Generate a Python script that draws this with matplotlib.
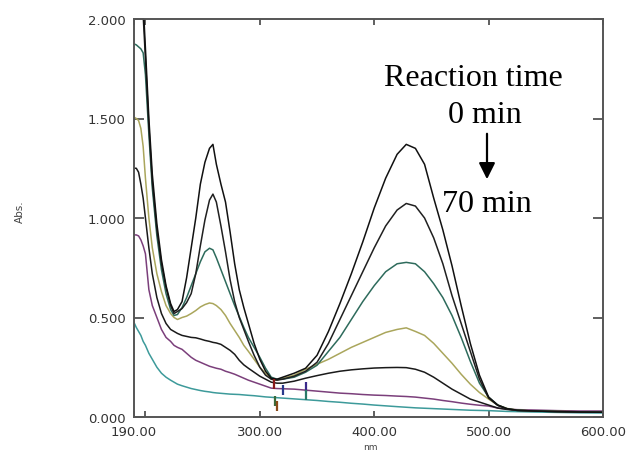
import matplotlib
matplotlib.use("Agg")
import matplotlib.pyplot as plt

# wavelength grid (nm)
wl = [190, 192, 194, 196, 198, 200, 203, 206, 210, 214, 218, 222, 225, 228, 232,
      236, 240, 244, 248, 252, 256, 259, 262, 266, 270, 274, 278, 282, 286, 290,
      295, 300, 305, 310, 315, 320, 330, 340, 350, 360, 370, 380, 390, 400, 410,
      420, 428, 436, 444, 452, 460, 468, 476, 484, 492, 500, 508, 516, 525, 540,
      560, 580, 600]

abs_0min = [3.6, 3.2, 2.8, 2.4, 2.08, 1.85, 1.5, 1.22, 0.97, 0.79, 0.66, 0.57, 0.53, 0.54, 0.58,
            0.7, 0.85, 1.0, 1.17, 1.28, 1.35, 1.37, 1.27, 1.17, 1.08, 0.93, 0.77, 0.64, 0.55, 0.47,
            0.37, 0.29, 0.23, 0.195, 0.19, 0.2, 0.22, 0.245, 0.31, 0.43, 0.57, 0.72, 0.88, 1.05, 1.2,
            1.32, 1.37, 1.35, 1.27, 1.1, 0.94, 0.76, 0.56, 0.37, 0.21, 0.1, 0.06, 0.042, 0.034, 0.03,
            0.027, 0.025, 0.024]

abs_10min = [3.3, 2.95, 2.6, 2.3, 2.02, 1.8, 1.46, 1.18, 0.94, 0.77, 0.65, 0.56, 0.52, 0.53, 0.545,
             0.575, 0.62, 0.72, 0.86, 0.99, 1.09, 1.12, 1.08, 0.96, 0.83, 0.69, 0.58, 0.5, 0.44, 0.38,
             0.31, 0.25, 0.21, 0.19, 0.185, 0.19, 0.205, 0.23, 0.275, 0.37, 0.49, 0.61, 0.73, 0.85, 0.96,
             1.04, 1.073, 1.06, 1.0, 0.9, 0.77, 0.61, 0.47, 0.33, 0.19, 0.095, 0.058, 0.04, 0.033, 0.03,
             0.027, 0.025, 0.024]

abs_20min = [1.875, 1.87, 1.86, 1.85, 1.83, 1.72, 1.42, 1.15, 0.91, 0.74, 0.62, 0.54, 0.51, 0.515, 0.55,
             0.6, 0.66, 0.72, 0.78, 0.83, 0.848, 0.84, 0.8, 0.74, 0.68, 0.62, 0.56, 0.505, 0.45, 0.4,
             0.35, 0.3, 0.245, 0.2, 0.19, 0.19, 0.2, 0.225, 0.26, 0.33, 0.4, 0.49, 0.58, 0.66, 0.73,
             0.77, 0.777, 0.77, 0.73, 0.67, 0.6, 0.51, 0.4, 0.28, 0.17, 0.1, 0.06, 0.042, 0.034, 0.03,
             0.027, 0.025, 0.024]

abs_30min = [1.507, 1.5, 1.49, 1.45, 1.36, 1.2, 1.0, 0.85, 0.72, 0.63, 0.56, 0.52, 0.5, 0.49, 0.5,
             0.507, 0.52, 0.535, 0.553, 0.565, 0.573, 0.57, 0.56, 0.54, 0.51, 0.47, 0.435, 0.4, 0.36, 0.33,
             0.29, 0.25, 0.22, 0.19, 0.185, 0.195, 0.21, 0.24, 0.265, 0.29, 0.32, 0.35, 0.375, 0.4, 0.425,
             0.44, 0.448, 0.43, 0.41, 0.37, 0.32, 0.27, 0.215, 0.165, 0.123, 0.09, 0.06, 0.043, 0.035, 0.03,
             0.028, 0.026, 0.025]

abs_40min = [1.25, 1.25, 1.23, 1.17, 1.1, 1.0, 0.85, 0.72, 0.6, 0.52, 0.47, 0.44, 0.43, 0.42, 0.41,
             0.405, 0.4, 0.398, 0.392, 0.385, 0.38, 0.375, 0.372, 0.365, 0.35, 0.335, 0.315, 0.285, 0.262, 0.245,
             0.225, 0.205, 0.19, 0.175, 0.17, 0.17, 0.18, 0.195, 0.208, 0.22, 0.23, 0.237, 0.242, 0.246, 0.248,
             0.249, 0.248, 0.24, 0.225, 0.2, 0.17, 0.14, 0.115, 0.09, 0.075, 0.06, 0.045, 0.038, 0.033, 0.03,
             0.028, 0.026, 0.025]

abs_50min = [0.915, 0.915, 0.91, 0.89, 0.86, 0.82, 0.64, 0.56, 0.5, 0.44, 0.4, 0.38, 0.36, 0.35, 0.34,
             0.32, 0.3, 0.285, 0.275, 0.265, 0.255, 0.25, 0.245, 0.24, 0.23, 0.223, 0.215, 0.205, 0.195, 0.185,
             0.175, 0.165, 0.155, 0.145, 0.143, 0.142, 0.14, 0.135, 0.13, 0.125, 0.12, 0.117, 0.113, 0.11, 0.108,
             0.105, 0.103, 0.1, 0.095, 0.09, 0.083, 0.077, 0.07, 0.064, 0.059, 0.055, 0.045, 0.04, 0.037, 0.035,
             0.032, 0.03, 0.03]

abs_70min = [0.475, 0.45, 0.43, 0.41, 0.38, 0.36, 0.32, 0.29, 0.25, 0.22, 0.2, 0.185, 0.175, 0.165, 0.157,
             0.15, 0.143, 0.138, 0.133, 0.129, 0.126, 0.123, 0.121, 0.119, 0.117, 0.115, 0.114, 0.113, 0.111, 0.109,
             0.107, 0.104, 0.101, 0.099, 0.097, 0.095, 0.091, 0.087, 0.083, 0.078, 0.074, 0.069, 0.065, 0.06, 0.056,
             0.052, 0.049, 0.046, 0.044, 0.042, 0.04, 0.038, 0.036, 0.034, 0.033, 0.032, 0.03, 0.028, 0.027, 0.025,
             0.023, 0.021, 0.02]

# instrument peak-pick markers
pick_wl = [312, 313, 315, 320, 340, 340]
pick_abs = [0.165, 0.08, 0.055, 0.135, 0.15, 0.11]
pick_colors = ['#8b1a1a', '#3a6b3a', '#8b4a1a', '#2a3a8b', '#3a2a8b', '#2a7a6a']

series = [abs_70min, abs_50min, abs_40min, abs_30min, abs_20min, abs_10min, abs_0min]
colors = ['#3d9a9a', '#7b3f7b', '#1a1a1a', '#aaa65c', '#2e6b5c', '#202020', '#111111']

x_tick_vals = [190, 300, 400, 500, 600]
x_tick_labels = ['190.00', '300.00', '400.00', '500.00', '600.00']
y_tick_vals = [0.0, 0.5, 1.0, 1.5, 2.0]
y_tick_labels = ['0.000', '0.500', '1.000', '1.500', '2.000']

fig = plt.figure(figsize=(6.29, 4.52), dpi=100)
ax = fig.add_axes([134/629, 1 - 418/452, (603 - 134)/629, (418 - 20)/452])

for ys, c in zip(series, colors):
    ax.plot(wl, ys, color=c, lw=1.1)

for px, py, pc in zip(pick_wl, pick_abs, pick_colors):
    ax.plot([px], [py], marker='|', markersize=7, mew=1.6, color=pc)

ax.set_xlim(190, 600)
ax.set_ylim(0, 2)

ax.set_xticks(x_tick_vals, x_tick_labels)
ax.set_xticks([200], minor=True)
ax.set_yticks(y_tick_vals, y_tick_labels)

for lab in ax.get_xticklabels() + ax.get_yticklabels():
    lab.set_fontfamily('DejaVu Sans')
    lab.set_fontsize(9.5)
    lab.set_color('#333333')

ax.tick_params(axis='x', which='both', direction='in', length=4.5, width=1.2,
               top=True, bottom=True, color='#444444', pad=6)
ax.tick_params(axis='y', which='both', direction='in', length=7, width=1.2,
               left=True, right=True, color='#444444', pad=6)

for sp in ax.spines.values():
    sp.set_color('#555555')
    sp.set_linewidth(1.4)

fig.text(20/629, 1 - 212/452, 'Abs.', rotation=90, ha='center', va='center',
         fontsize=7.5, color='#444444', family='DejaVu Sans')
fig.text(370/629, 0.0, 'nm', ha='center', va='bottom',
         fontsize=6.5, color='#444444', family='DejaVu Sans')

serif = ['Liberation Serif', 'DejaVu Serif']
fig.text(473/629, 1 - 79/452, 'Reaction time', ha='center', va='center',
         fontsize=23, family=serif, color='black')
fig.text(485/629, 1 - 116/452, '0 min', ha='center', va='center',
         fontsize=23, family=serif, color='black')
fig.text(487/629, 1 - 204/452, '70 min', ha='center', va='center',
         fontsize=23, family=serif, color='black')
fig.add_artist(matplotlib.patches.FancyArrowPatch(
    (487/629, 1 - 132/452), (487/629, 1 - 183/452), transform=fig.transFigure,
    arrowstyle='-|>,head_length=0.7,head_width=0.35', mutation_scale=14,
    color='black', lw=1.6))

fig.savefig('out.png', dpi=100)
